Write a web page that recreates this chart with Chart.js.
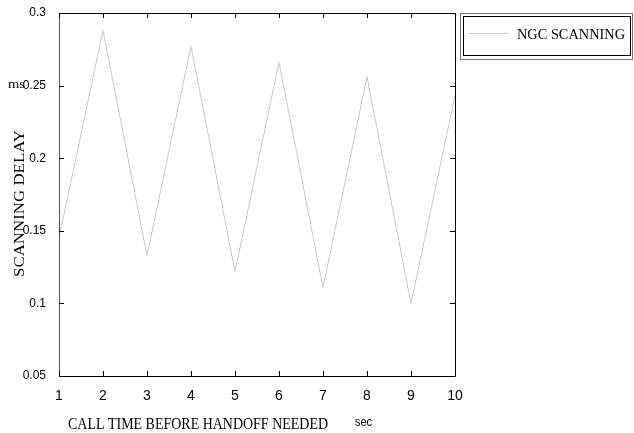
<!DOCTYPE html>
<html>
<head>
<meta charset="utf-8">
<script src="https://cdn.jsdelivr.net/npm/chart.js@4"></script>
<style>
html,body{margin:0;padding:0;background:#fff;}
#wrap{width:634px;height:433px;position:relative;}
</style>
</head>
<body>
<div id="wrap"><canvas id="c" width="634" height="433"></canvas></div>
<script>
const xValues = [1, 2, 3, 4, 5, 6, 7, 8, 9, 10];
const scanningDelay = [0.145, 0.288, 0.133, 0.277, 0.122, 0.266, 0.111, 0.256, 0.100, 0.243];
const yTickLabels = ['0.05', '0.1', '0.15', '0.2', '0.25', '0.3'];
const xTickLabels = ['1', '2', '3', '4', '5', '6', '7', '8', '9', '10'];
const seriesName = 'NGC SCANNING';
const xTitle = 'CALL TIME BEFORE HANDOFF NEEDED';
const xUnit = 'sec';
const yTitle = 'SCANNING DELAY';
const yUnit = 'ms';

function fitText(ctx, text, x, y, targetW, font, sy) {
  ctx.save();
  ctx.font = font;
  const w = ctx.measureText(text).width;
  ctx.translate(x, y);
  ctx.scale(targetW / w, sy || 1);
  ctx.fillText(text, 0, 0);
  ctx.restore();
}

const decor = {
  id: 'decor',
  afterDraw(chart) {
    const ctx = chart.ctx;
    const a = chart.chartArea;
    const xs = chart.scales.x, ys = chart.scales.y;
    ctx.save();
    ctx.lineWidth = 1;
    // box
    ctx.strokeStyle = '#000';
    ctx.beginPath();
    ctx.moveTo(Math.round(a.left) + 0.5, Math.round(a.top) + 0.5);
    ctx.lineTo(Math.round(a.right) + 0.5, Math.round(a.top) + 0.5);
    ctx.lineTo(Math.round(a.right) + 0.5, Math.round(a.bottom) + 0.5);
    ctx.lineTo(Math.round(a.left) + 0.5, Math.round(a.bottom) + 0.5);
    ctx.stroke();
    ctx.strokeStyle = '#555';
    ctx.beginPath();
    ctx.moveTo(Math.round(a.left) + 0.5, Math.round(a.top) + 0.5);
    ctx.lineTo(Math.round(a.left) + 0.5, Math.round(a.bottom) + 0.5);
    ctx.stroke();
    // ticks
    ctx.strokeStyle = '#000';
    ctx.beginPath();
    xs.ticks.forEach(t => {
      const px = Math.round(xs.getPixelForValue(t.value)) + 0.5;
      ctx.moveTo(px, a.bottom); ctx.lineTo(px, a.bottom - 5);
      ctx.moveTo(px, a.top); ctx.lineTo(px, a.top + 5);
    });
    ys.ticks.forEach(t => {
      const py = Math.round(ys.getPixelForValue(t.value)) + 0.5;
      ctx.moveTo(a.left, py); ctx.lineTo(a.left + 5, py);
      ctx.moveTo(a.right, py); ctx.lineTo(a.right - 5, py);
    });
    ctx.stroke();
    // titles
    ctx.fillStyle = '#000';
    ctx.textBaseline = 'alphabetic';
    ctx.textAlign = 'left';
    fitText(ctx, xTitle, 68, 429, 260, '14px "Liberation Serif"', 1.2);
    fitText(ctx, xUnit, 355, 426, 17, '11px "Liberation Sans"', 1.1);
    fitText(ctx, yUnit, 8, 88, 17, '13px "Liberation Serif"', 1);
    ctx.save();
    ctx.translate(24, 277);
    ctx.rotate(-Math.PI / 2);
    fitText(ctx, yTitle, 0, 0, 147, '14px "Liberation Serif"', 1);
    ctx.restore();
    // legend
    ctx.strokeStyle = '#777';
    ctx.strokeRect(460.5, 13.5, 172, 46);
    ctx.strokeStyle = '#000';
    ctx.strokeRect(463.5, 16.5, 167, 39);
    ctx.strokeStyle = '#c8c8c8';
    ctx.beginPath();
    ctx.moveTo(469, 33.5); ctx.lineTo(508, 33.5);
    ctx.stroke();
    fitText(ctx, seriesName, 517, 39, 108, '14px "Liberation Serif"', 1.1);
    ctx.restore();
  }
};

new Chart(document.getElementById('c'), {
  type: 'line',
  data: {
    datasets: [{
      label: seriesName,
      data: xValues.map((x, i) => ({ x: x, y: scanningDelay[i] })),
      borderColor: '#c8c8c8',
      borderWidth: 1,
      pointRadius: 0,
      tension: 0,
      fill: false
    }]
  },
  options: {
    responsive: false,
    animation: false,
    layout: { padding: { top: 13, right: 179, left: 0, bottom: 0 } },
    plugins: { legend: { display: false }, tooltip: { enabled: false } },
    scales: {
      x: {
        type: 'linear', min: 1, max: 10,
        grid: { display: false }, border: { display: false },
        ticks: {
          stepSize: 1, padding: 4, color: '#000', maxRotation: 0, autoSkip: false,
          font: { family: 'Liberation Sans', size: 14 },
          callback: (v) => xTickLabels[xValues.indexOf(v)] ?? ''
        },
        afterFit: (s) => { s.height = 57; }
      },
      y: {
        type: 'linear', min: 0.05, max: 0.3,
        grid: { display: false }, border: { display: false },
        ticks: {
          stepSize: 0.05, padding: 5, color: '#000', autoSkip: false,
          font: { family: 'Liberation Sans', size: 12 },
          callback: (v) => {
            const s = String(Number(v.toFixed(2)));
            return yTickLabels.includes(s) ? s : '';
          }
        },
        afterFit: (s) => { s.width = 59; }
      }
    }
  },
  plugins: [decor]
});
</script>
</body>
</html>
